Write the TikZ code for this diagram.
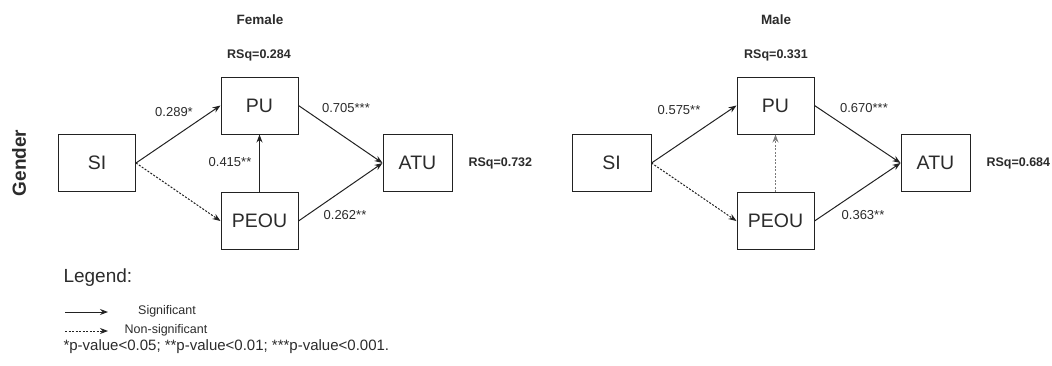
\documentclass[tikz,border=0pt]{standalone}
\usepackage{fontspec}
\setmainfont{Liberation Sans}
\usepackage{xcolor}
\usetikzlibrary{arrows.meta}
\definecolor{path-dark}{HTML}{222222}
\definecolor{path-gray}{HTML}{7A7A7A}
\definecolor{text-dark}{HTML}{2B2B2B}

\begin{document}
\begin{tikzpicture}[x=1pt, y=-1pt,
        every node/.style={text=text-dark},
        box/.style={draw=path-dark, line width=1pt, minimum width=77pt,
            minimum height=57pt, inner sep=0pt, font=\fontsize{19.5}{22}\selectfont},
        sig/.style={-{Stealth[length=8pt, width=6pt]}, draw=path-dark, line width=1pt},
        nonsig/.style={sig, dash pattern=on 2pt off 1.5pt},
        coef/.style={font=\fontsize{13}{15}\selectfont},
        rsq/.style={font=\bfseries\fontsize{12.5}{15}\selectfont},
        panel/.style={font=\bfseries\fontsize{13.5}{16}\selectfont}]
      \useasboundingbox (0,0) rectangle (1052,365);
      % Female
      \node[panel] (TITLE-F) at (260,20) {Female};
      \node[rsq] (RSQPU-F) at (259,55) {RSq=0.284};
      \node[box] (SI-F) at (97,163) {SI};
      \node[box] (PU-F) at (259.5,105.5) {PU};
      \node[box] (PEOU-F) at (259.5,221) {PEOU};
      \node[box, minimum width=69pt] (ATU-F) at (417.5,163) {ATU};
      \node[rsq, anchor=west] (RSQATU-F) at (465,163) {RSq=0.732};
      \draw[sig] (SI-F.east) -- (PU-F.west);
      \draw[nonsig] (SI-F.east) -- (PEOU-F.west);
      \draw[sig] (PU-F.east) -- (ATU-F.west);
      \draw[sig] (PEOU-F.east) -- (ATU-F.west);
      \draw[sig] (PEOU-F.north) -- (PU-F.south);
      \node[coef] (C1-F) at (174,112) {0.289*};
      \node[coef] (C2-F) at (346,108) {0.705***};
      \node[coef] (C3-F) at (230,162) {0.415**};
      \node[coef] (C4-F) at (345,215) {0.262**};
      % Male
      \node[panel] (TITLE-M) at (776,20) {Male};
      \node[rsq] (RSQPU-M) at (776,55) {RSq=0.331};
      \node[box, minimum width=79pt] (SI-M) at (611.5,163) {SI};
      \node[box] (PU-M) at (775.5,105.5) {PU};
      \node[box] (PEOU-M) at (775.5,221) {PEOU};
      \node[box, minimum width=69pt] (ATU-M) at (935.5,163) {ATU};
      \node[rsq, anchor=west] (RSQATU-M) at (983,163) {RSq=0.684};
      \draw[sig] (SI-M.east) -- (PU-M.west);
      \draw[nonsig] (SI-M.east) -- (PEOU-M.west);
      \draw[sig] (PU-M.east) -- (ATU-M.west);
      \draw[sig] (PEOU-M.east) -- (ATU-M.west);
      \draw[nonsig, draw=path-gray] (PEOU-M.north) -- (PU-M.south);
      \node[coef] (C1-M) at (679,110) {0.575**};
      \node[coef] (C2-M) at (864,108) {0.670***};
      \node[coef] (C4-M) at (863,215) {0.363**};
      % Group label
      \node[rotate=90, font=\bfseries\fontsize{19}{22}\selectfont] (GROUP) at (19,163) {Gender};
      % Legend
      \node[anchor=west, font=\fontsize{19}{22}\selectfont] (LEGEND) at (60,278) {Legend:};
      \coordinate (L1a) at (65,312);
      \coordinate (L1b) at (108,312);
      \coordinate (L2a) at (65,331);
      \coordinate (L2b) at (108,331);
      \draw[sig] (L1a) -- (L1b);
      \draw[nonsig] (L2a) -- (L2b);
      \node[font=\fontsize{12.5}{15}\selectfont] (SIG) at (167,311) {Significant};
      \node[font=\fontsize{12.5}{15}\selectfont] (NONSIG) at (166,330) {Non-significant};
      \node[anchor=west, font=\fontsize{15}{18}\selectfont] (NOTE) at (60,347)
            {*p-value<0.05; **p-value<0.01; ***p-value<0.001.};
    \end{tikzpicture}
\end{document}
